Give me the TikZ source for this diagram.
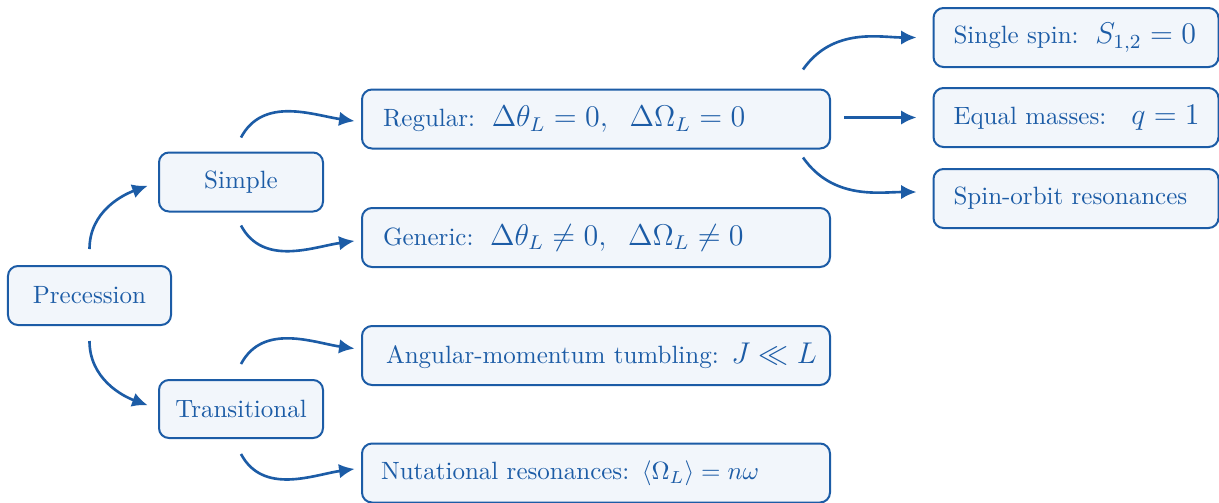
\documentclass[tikz,border=0pt]{standalone}
\usetikzlibrary{arrows.meta,calc}
\definecolor{bl}{RGB}{28,92,166}
\definecolor{bfill}{RGB}{242,246,251}
\begin{document}
\begin{tikzpicture}[x=0.4pt,y=0.4pt,
  box/.style={draw=bl, fill=bfill, rounded corners=4pt, line width=0.8pt, text=bl,
              minimum height=23.6pt, inner ysep=0pt},
  cbox/.style={box, minimum width=65.6pt, align=center},
  lbox/.style={box, text width=#1, align=left, inner xsep=8.4pt},
  rbox/.style={box, text width=98pt, align=left, inner xsep=8pt},
  arr/.style={draw=bl, line width=1.05pt, -{Latex[length=6.2pt,width=5.8pt]}}]
\useasboundingbox (0,0) rectangle (1219,-502);

% nodes
\node[cbox, minimum width=65.2pt] (prec) at (89.5,-295.5) {Precession};
\node[cbox] (simple) at (241,-182) {Simple};
\node[cbox, minimum height=23.2pt] (trans) at (241,-409) {Transitional};

\node[lbox=170.4pt] (regular) at (596,-119)
  {\mbox{Regular:\ \ {\large$\Delta\theta_L=0,\ \ \Delta\Omega_L=0$}}};
\node[lbox=170.4pt] (generic) at (596,-237.5)
  {\mbox{Generic:\ \ {\large$\Delta\theta_L\neq0,\ \ \Delta\Omega_L\neq0$}}};
\node[lbox=168pt, inner xsep=9.6pt] (angular) at (596,-355.5)
  {\mbox{Angular-momentum tumbling: {\large$J\ll L$}}};
\node[lbox=172pt, inner xsep=7.6pt] (nut) at (596,-473)
  {\mbox{Nutational resonances: $\langle\Omega_L\rangle=n\omega$}};

\node[rbox] (single) at (1076,-37.5) {\mbox{Single spin:\ \ {\large$S_{1,2}=0$}}};
\node[rbox] (equal) at (1076,-117.5) {\mbox{Equal masses:\quad{\large$q=1$}}};
\node[rbox] (spinorbit) at (1076,-198.5) {\mbox{Spin-orbit resonances}};

% connectors
\draw[arr, shorten >=4.4pt] ($(prec.north)+(0,16)$) to[out=90,in=200] (simple.west);
\draw[arr, shorten >=4.4pt] ($(prec.south)+(0,-15)$) to[out=-90,in=160] (trans.west);

\draw[arr, shorten >=2.6pt] ($(simple.north)+(0,14)$) to[out=62,in=172] ($(regular.west)+(0,-3)$);
\draw[arr, shorten >=2.6pt] ($(simple.south)+(0,-13)$) to[out=-62,in=188] ($(generic.west)+(0,-2.5)$);
\draw[arr, shorten >=2.6pt] ($(trans.north)+(0,15)$) to[out=62,in=172] ($(angular.west)+(0,6)$);
\draw[arr, shorten >=2.6pt] ($(trans.south)+(0,-15)$) to[out=-62,in=188] ($(nut.west)+(0,5)$);

\draw[arr, shorten >=6.4pt] ($(regular.north east)+(-28,19)$) to[out=55,in=180] (single.west);
\draw[arr, shorten <=5.2pt, shorten >=6.4pt] (regular.east |- equal.west) -- (equal.west);
\draw[arr, shorten >=6.4pt] ($(regular.south east)+(-28,-8)$) to[out=-55,in=180] ($(spinorbit.west)+(0,6.5)$);
\end{tikzpicture}
\end{document}
